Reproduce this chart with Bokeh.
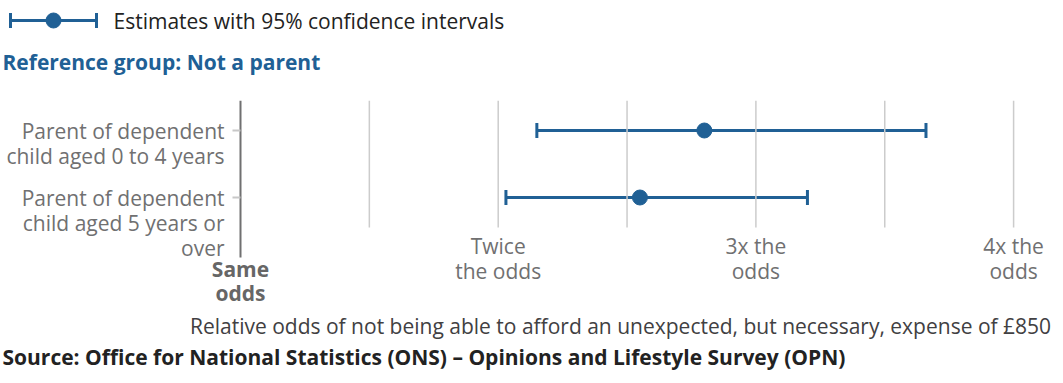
from bokeh.plotting import figure
from bokeh.models import Range1d, Whisker, TeeHead, ColumnDataSource
from bokeh.layouts import column
from bokeh.embed import file_html
from bokeh.resources import INLINE
from bokeh.core.properties import value

# ---------------- data ----------------
group_lines = [
    ["Parent of dependent", "child aged 0 to 4 years"],
    ["Parent of dependent", "child aged 5 years or", "over"],
]
estimates = [2.80, 2.55]
lower = [2.15, 2.03]
upper = [3.66, 3.20]
tick_values = [2, 3, 4]
tick_lines = [["Twice", "the odds"], ["3x the", "odds"], ["4x the", "odds"]]
grid_values = [1.5, 2, 2.5, 3, 3.5, 4]
baseline_value = 1
baseline_lines = ["Same", "odds"]
legend_text = "Estimates with 95% confidence intervals"
reference_text = "Reference group: Not a parent"
axis_title = "Relative odds of not being able to afford an unexpected, but necessary, expense of \u00a3850"
source_text = "Source: Office for National Statistics (ONS) \u2013 Opinions and Lifestyle Survey (OPN)"

# ---------------- style ----------------
BLUE = "#206095"
GREY_TXT = "#707071"
FONT = "Open Sans"
FS = "21px"
W = 1060


def pixel_fig(h):
    f = figure(width=W, height=h, x_range=Range1d(0, W), y_range=Range1d(h, 0),
               x_axis_location=None, y_axis_location=None, toolbar_location=None,
               output_backend="svg", min_border=0)
    f.outline_line_color = None
    f.xgrid.visible = False
    f.ygrid.visible = False
    return f


# ---------------- top (legend + heading) ----------------
TOP_H = 83
top = pixel_fig(TOP_H)
leg_src = ColumnDataSource(dict(base=[20], lo=[10], hi=[96], mid=[53]))
top.add_layout(Whisker(source=leg_src, base="base", lower="lo", upper="hi",
                       dimension="width", line_color=BLUE, line_width=3,
                       upper_head=TeeHead(size=15, line_color=BLUE, line_width=3),
                       lower_head=TeeHead(size=15, line_color=BLUE, line_width=3)))
top.scatter(x="mid", y="base", source=leg_src, size=15, color=BLUE)
top.text(x=[113], y=[20], text=[legend_text], text_font=value(FONT),
         text_font_size=FS, text_color="#222222", text_baseline="middle")
top.text(x=[2], y=[61], text=[reference_text], text_font=value(FONT),
         text_font_size=FS, text_font_style="bold", text_color=BLUE,
         text_baseline="middle")

# ---------------- main chart ----------------
PX_UNIT = 257.7       # pixels per odds unit
ROW_PX = 67           # pixels between rows
LINE_PX = 25          # text line spacing
X0_PAGE = 240         # page x of "same odds"
ROW0_PAGE = 130       # page y of first row
FRAME_TOP_PAGE = 100
FRAME_BOT_PAGE = 310
MAIN_H = FRAME_BOT_PAGE - TOP_H


def xdata(page_x):
    return baseline_value + (page_x - X0_PAGE) / PX_UNIT


def ydata(page_y):
    return (page_y - ROW0_PAGE) / ROW_PX


p = figure(width=W, height=MAIN_H,
           x_range=Range1d(xdata(0), xdata(W)),
           y_range=Range1d(ydata(FRAME_BOT_PAGE), ydata(FRAME_TOP_PAGE)),
           x_axis_location=None, y_axis_location=None,
           toolbar_location=None, output_backend="svg",
           min_border_left=0, min_border_right=0, min_border_bottom=0,
           min_border_top=FRAME_TOP_PAGE - TOP_H)
p.outline_line_color = None
p.xgrid.visible = False
p.ygrid.visible = False

rows = list(range(len(estimates)))
src = ColumnDataSource(dict(y=rows, est=estimates, lo=lower, hi=upper))

plot_top = ydata(FRAME_TOP_PAGE)
plot_bottom = ydata(227)

# vertical grid lines
p.segment(x0=grid_values, y0=[plot_top] * len(grid_values),
          x1=grid_values, y1=[plot_bottom] * len(grid_values),
          line_color="#cccccc", line_width=1.5)
# "same odds" reference line, extending below the plot area
p.segment(x0=[baseline_value], y0=[plot_top], x1=[baseline_value],
          y1=[ydata(257)], line_color="#707071", line_width=2)
# category tick marks
p.segment(x0=[xdata(X0_PAGE - 8)] * len(rows), y0=rows,
          x1=[baseline_value] * len(rows), y1=rows,
          line_color="#c8c8c8", line_width=2)

# category labels (wrapped, right aligned)
lx, ly, lt = [], [], []
for r, lines in zip(rows, group_lines):
    for k, line in enumerate(lines):
        lx.append(xdata(224))
        ly.append(r + (k * LINE_PX) / ROW_PX)
        lt.append(line)
p.text(x=lx, y=ly, text=lt, text_font=value(FONT), text_font_size=FS,
       text_color=GREY_TXT, text_align="right", text_baseline="middle")

# x tick labels
tx, ty, tt = [], [], []
for v, lines in zip(tick_values, tick_lines):
    for k, line in enumerate(lines):
        tx.append(v)
        ty.append(ydata(245 + k * LINE_PX))
        tt.append(line)
p.text(x=tx, y=ty, text=tt, text_font=value(FONT), text_font_size=FS,
       text_color=GREY_TXT, text_align="center", text_baseline="middle")

# "Same odds" label
p.text(x=[baseline_value] * len(baseline_lines),
       y=[ydata(268 + k * 24) for k in range(len(baseline_lines))],
       text=baseline_lines, text_font=value(FONT), text_font_size=FS,
       text_font_style="bold", text_color="#666666", text_align="center",
       text_baseline="middle")

# error bars + points
cap = dict(size=15, line_color=BLUE, line_width=3)
p.add_layout(Whisker(source=src, base="y", lower="lo", upper="hi", dimension="width",
                     line_color=BLUE, line_width=3,
                     upper_head=TeeHead(**cap), lower_head=TeeHead(**cap)))
p.scatter(x="est", y="y", source=src, size=15, color=BLUE)

# ---------------- bottom (axis title + source) ----------------
BOT_H = 70
bot = pixel_fig(BOT_H)
bot.text(x=[620], y=[325 - FRAME_BOT_PAGE], text=[axis_title], text_font=value(FONT),
         text_font_size=FS, text_color="#414042", text_align="center",
         text_baseline="middle")
bot.text(x=[2], y=[356 - FRAME_BOT_PAGE], text=[source_text], text_font=value(FONT),
         text_font_size=FS, text_font_style="bold", text_color="#222222",
         text_baseline="middle")

layout = column(top, p, bot)
open("out.html", "w").write(file_html(layout, INLINE))
